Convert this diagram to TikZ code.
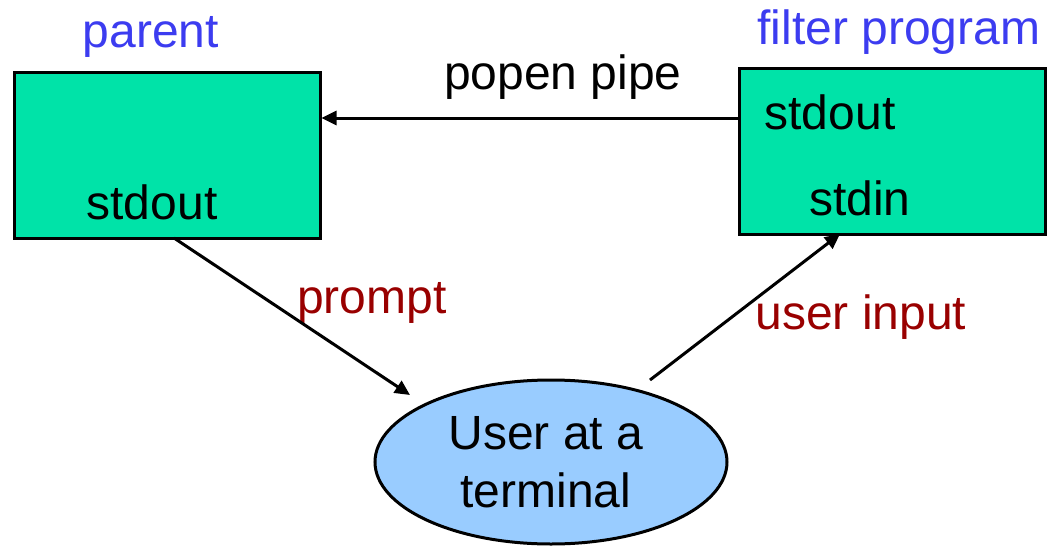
\documentclass[tikz,border=0pt]{standalone}
\usepackage{fontspec}
\setmainfont{Liberation Sans}
\usetikzlibrary{arrows.meta,shapes.geometric}
\definecolor{boxgreen}{RGB}{0,227,168}
\definecolor{termblue}{RGB}{153,204,255}
\definecolor{titleblue}{RGB}{60,60,240}
\definecolor{flowred}{RGB}{153,0,0}
\begin{document}
\begin{tikzpicture}[x=0.5pt,y=-0.5pt,
  procbox/.style={draw=black,line width=1.5pt,fill=boxgreen,rectangle,inner sep=0pt},
  lbl/.style={inner sep=0pt,font=\fontsize{24}{28}\selectfont},
  title/.style={lbl,text=titleblue},
  flow/.style={lbl,text=flowred},
  conn/.style={draw=black,line width=1.5pt,-{Triangle[length=7.5pt,width=7pt]}}]
  \useasboundingbox (0,0) rectangle (1057,547);
  % process boxes
  \node[procbox,minimum width=153pt,minimum height=83pt] (parent) at (167,155) {};
  \node[procbox,minimum width=153pt,minimum height=83pt] (filter) at (892,151) {};
  % terminal
  \node[ellipse,draw=black,line width=1.5pt,fill=termblue,minimum width=176pt,minimum height=82pt,inner sep=0pt] (term) at (551,462) {};
  % texts
  \node[title] (tparent) at (151,37) {parent};
  \node[title] (tfilter) at (899,32) {filter program};
  \node[lbl] (pout) at (152,202) {stdout};
  \node[lbl] (fout) at (830,112) {stdout};
  \node[lbl] (fin) at (860,198) {stdin};
  \node[lbl] (popen) at (563,77) {popen pipe};
  \node[flow] (prompt) at (372,303) {prompt};
  \node[flow] (uin) at (861,317) {user input};
  \node[lbl,align=center,font=\fontsize{24}{29}\selectfont] (tterm) at (546,462) {User at a\\terminal};
  % connectors
  \coordinate (pipeA) at (filter.west |- 0,118);
  \coordinate (pipeB) at (parent.east |- 0,118);
  \draw[conn] (pipeA) -- (pipeB);
  \coordinate (pstart) at (174,238);
  \coordinate (pend) at (410,395);
  \draw[conn] (pstart) -- (pend);
  \coordinate (ustart) at (650,380);
  \coordinate (uend) at (840,234);
  \draw[conn] (ustart) -- (uend);
\end{tikzpicture}
\end{document}
